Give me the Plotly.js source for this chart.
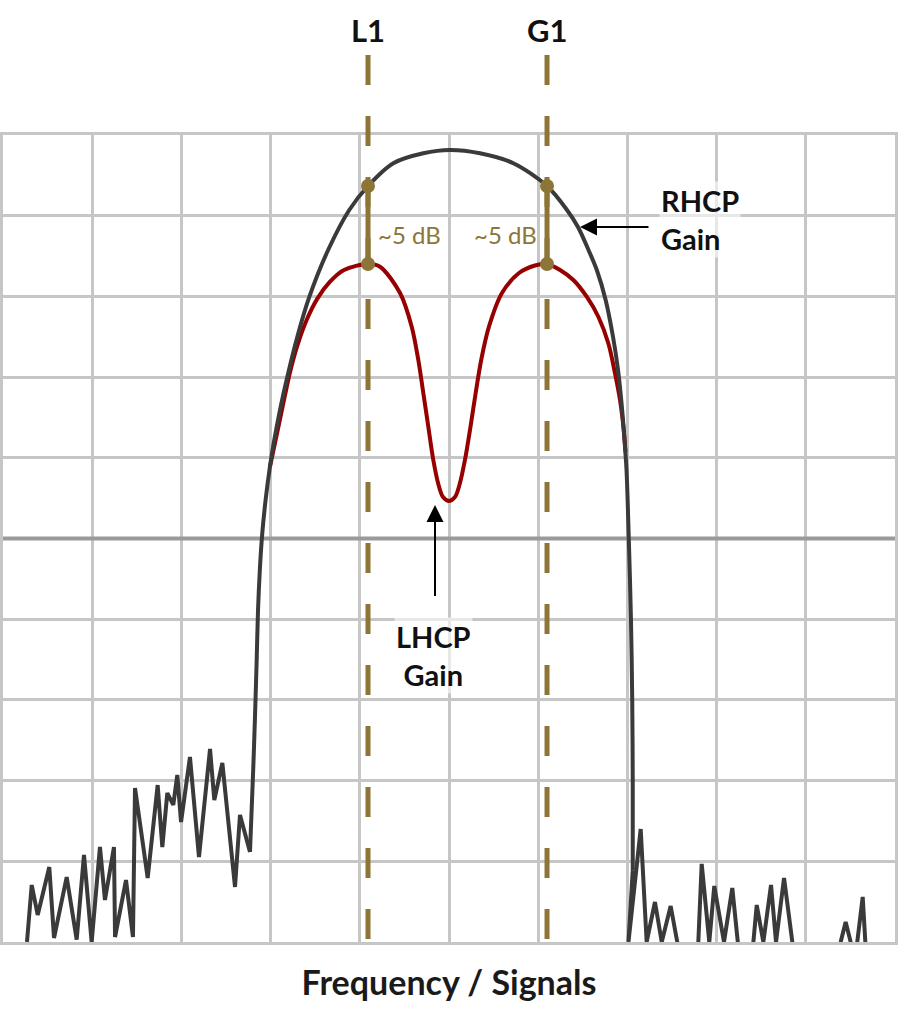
<!DOCTYPE html>
<html><head><meta charset="utf-8">
<script src="https://cdn.plot.ly/plotly-3.0.1.min.js"></script>
<style>html,body{margin:0;padding:0;background:#fff}#chart{width:898px;height:1024px}</style>
</head><body><div id="chart"></div>
<script>
// ---- data (x: frequency in grid divisions, y: relative level in grid divisions) ----
const bandNames = ['L1', 'G1'];
const bandX = [4.092, 6.099];
const rhcpAtBand = [9.368, 9.368];
const lhcpAtBand = [8.401, 8.401];
const gapLabel = '~5 dB';
const refLevel = 5;

const noiseLeftX = [0.269,0.322,0.389,0.519,0.572,0.714,0.826,0.908,0.994,1.087,1.143,1.244,1.256,1.379,1.457,1.480,1.622,1.734,1.786,1.842,1.909,1.954,1.996,2.096,2.197,2.321,2.369,2.459,2.601,2.657,2.769];
const noiseLeftY = [0,0.706,0.335,0.929,0.05,0.805,0.03,1.078,0,1.177,0.520,1.177,0.062,0.768,0.062,1.908,0.793,1.945,1.177,1.846,1.698,2.069,1.487,2.292,1.053,2.392,1.760,2.218,0.682,1.574,1.115];

const rhcpX = [2.769,2.806,2.825,2.844,2.859,2.881,2.907,2.944,2.992,3.035,3.105,3.187,3.299,3.434,3.645,3.882,4.092,4.376,4.712,5.011,5.348,5.721,6.099,6.323,6.446,6.564,6.657,6.756,6.839,6.895,6.934,6.965,6.990,7.016,7.040,7.054,7.060,7.060];
const rhcpY = [1.115,2.169,2.788,3.494,4.114,4.647,5.068,5.477,5.886,6.183,6.592,7.001,7.497,7.993,8.575,9.071,9.368,9.650,9.773,9.814,9.773,9.650,9.368,9.071,8.860,8.575,8.327,7.955,7.497,7.088,6.679,6.258,5.849,4.981,3.990,2.999,1.970,0.892];

const noiseRightX = [7.060,7.012,7.149,7.216,7.309,7.385,7.485,7.559,7.677,7.795,7.833,7.918,7.974,8.083,8.176,8.232,8.330,8.450,8.524,8.610,8.666,8.756,8.849,9.103,9.391,9.447,9.503,9.540,9.577,9.638,9.675,9.720];
const noiseRightY = [0.892,0,1.400,0,0.496,0,0.446,0,-1,0,0.967,0,0.694,0,0.669,0,-1,0.458,0,0.706,0,0.793,0,-1,0,0.248,0,-0.6,0,0.558,0,-1];

const lhcpX = [2.992,3.064,3.158,3.215,3.296,3.404,3.526,3.666,3.823,4.092,4.226,4.451,4.582,4.656,4.712,4.768,4.824,4.883,4.933,5.000,5.067,5.117,5.179,5.241,5.299,5.361,5.448,5.594,5.785,5.964,6.099,6.245,6.394,6.544,6.674,6.786,6.861,6.917,6.957,6.979];
const lhcpY = [5.886,6.261,6.757,7.047,7.377,7.708,7.976,8.182,8.327,8.401,8.368,8.042,7.625,7.212,6.803,6.385,5.973,5.663,5.514,5.465,5.514,5.663,5.973,6.385,6.803,7.212,7.625,8.042,8.290,8.383,8.401,8.327,8.203,7.996,7.748,7.419,7.047,6.716,6.369,6.072];

// ---- styles ----
const GOLD = '#8c7537';
const INK = '#3a3a3a';
const RED = '#960000';
const GRID = '#c6c6c6';
const FONT = 'Lato, "Open Sans", sans-serif';

const traces = [
  {x: lhcpX, y: lhcpY, mode: 'lines', line: {color: RED, width: 4, shape: 'spline', smoothing: 0.9}, hoverinfo: 'skip'},
  {x: noiseLeftX, y: noiseLeftY, mode: 'lines', line: {color: INK, width: 4}, hoverinfo: 'skip'},
  {x: rhcpX, y: rhcpY, mode: 'lines', line: {color: INK, width: 4, shape: 'spline', smoothing: 0.9}, hoverinfo: 'skip'},
  {x: noiseRightX, y: noiseRightY, mode: 'lines', line: {color: INK, width: 4}, hoverinfo: 'skip'}
];
bandX.forEach((bx, i) => {
  traces.push({x: [bx, bx], y: [rhcpAtBand[i], lhcpAtBand[i]], mode: 'lines+markers',
    line: {color: GOLD, width: 5}, marker: {color: GOLD, size: 14}, hoverinfo: 'skip'});
});

const shapes = [
  {type: 'line', xref: 'x', yref: 'y', x0: 0, x1: 10, y0: refLevel, y1: refLevel,
   line: {color: '#9a9a9a', width: 4}, layer: 'between'}
];
bandX.forEach(bx => {
  shapes.push({type: 'line', xref: 'x', yref: 'paper', x0: bx, x1: bx, y0: 1.0991, y1: 0,
    line: {color: GOLD, width: 5, dash: '30px,31px'}, layer: 'above'});
});

const annotations = [];
bandX.forEach((bx, i) => {
  annotations.push({xref: 'x', yref: 'paper', x: bx, y: 1.130, yanchor: 'middle', text: bandNames[i], showarrow: false,
    font: {family: FONT, size: 31, color: '#111', weight: 700}});
});
annotations.push({xref: 'x', yref: 'y', x: bandX[0], y: (rhcpAtBand[0] + lhcpAtBand[0]) / 2, xanchor: 'left',
  xshift: 8, yshift: -9, text: gapLabel, showarrow: false, font: {family: FONT, size: 24, color: GOLD}});
annotations.push({xref: 'x', yref: 'y', x: bandX[1], y: (rhcpAtBand[1] + lhcpAtBand[1]) / 2, xanchor: 'right',
  xshift: -8, yshift: -9, text: gapLabel, showarrow: false, font: {family: FONT, size: 24, color: GOLD}});
annotations.push({xref: 'x', yref: 'y', x: 7.354, y: 8.959, xanchor: 'left', align: 'left',
  text: 'RHCP<br>Gain', showarrow: false, bgcolor: 'rgba(255,255,255,0.6)',
  font: {family: FONT, size: 29, color: '#111', weight: 700}});
annotations.push({xref: 'x', yref: 'y', x: 4.821, y: 3.556, xanchor: 'center', align: 'center',
  text: 'LHCP<br>Gain', showarrow: false, bgcolor: 'rgba(255,255,255,0.6)',
  font: {family: FONT, size: 29, color: '#111', weight: 700}});
annotations.push({xref: 'x', yref: 'y', x: 6.469, y: 8.860, axref: 'x', ayref: 'y', ax: 7.253, ay: 8.860,
  text: ' ', font: {size: 1}, showarrow: true, arrowhead: 2, arrowsize: 1.7, arrowwidth: 2, arrowcolor: '#000', standoff: 0});
annotations.push({xref: 'x', yref: 'y', x: 4.843, y: 5.415, axref: 'x', ayref: 'y', ax: 4.843, ay: 4.263,
  text: ' ', font: {size: 1}, showarrow: true, arrowhead: 2, arrowsize: 1.7, arrowwidth: 2, arrowcolor: '#000', standoff: 0});

const axisBase = {range: [0, 10], dtick: 1, tick0: 0, showgrid: true, gridcolor: GRID, gridwidth: 3,
  showline: true, mirror: true, linecolor: GRID, linewidth: 3, zeroline: false,
  showticklabels: false, ticks: '', fixedrange: true};

const layout = {
  width: 898, height: 1024,
  margin: {l: 3, r: 3, t: 135, b: 82},
  paper_bgcolor: '#ffffff', plot_bgcolor: '#ffffff', showlegend: false,
  xaxis: Object.assign({}, axisBase, {title: {text: 'Frequency / Signals', standoff: 28,
    font: {family: FONT, size: 34, color: '#1a1a1a', weight: 700}}}),
  yaxis: Object.assign({}, axisBase),
  shapes: shapes,
  annotations: annotations
};

Plotly.newPlot('chart', traces, layout, {displayModeBar: false, staticPlot: true});
</script>
</body></html>
